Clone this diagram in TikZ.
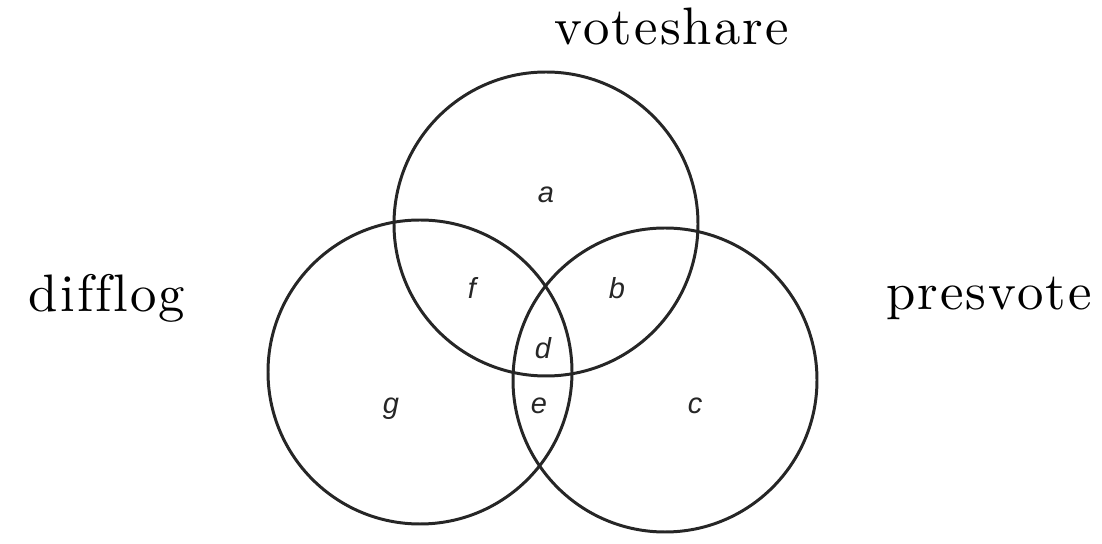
\documentclass[tikz,border=0pt]{standalone}
\usepackage{fontspec}
\newfontfamily\regionfont{Liberation Sans}
\newfontfamily\namefont{lmroman10-regular.otf}[LetterSpace=4,Ligatures=NoCommon]
\usepackage{tikz}

\begin{document}
\begin{tikzpicture}[
        setcircle/.style={draw=black!85, line width=1.7pt, circle, minimum size=6.08cm, inner sep=0pt},
        setname/.style={anchor=base, inner sep=0pt, font=\namefont\fontsize{30}{35}\selectfont},
        region/.style={anchor=base, inner sep=0pt, text=black!85, font=\regionfont\itshape\fontsize{16.5}{20}\selectfont}
      ]
      \useasboundingbox (0,0) rectangle (22.04,10.88);

      \node[setcircle] (vote) at (10.92,6.40) {};
      \node[setcircle] (diff) at (8.40,3.44) {};
      \node[setcircle] (pres) at (13.30,3.28) {};

      \node[setname] (vote-name) at (13.44,9.98) {voteshare};
      \node[setname] (diff-name) at (2.14,4.64) {difflog};
      \node[setname] (pres-name) at (19.78,4.68) {presvote};

      \node[region] (ra) at (10.92,6.82) {a};
      \node[region] (rb) at (12.34,4.90) {b};
      \node[region] (rc) at (13.90,2.60) {c};
      \node[region] (rd) at (10.86,3.70) {d};
      \node[region] (re) at (10.78,2.60) {e};
      \node[region] (rf) at (9.44,4.90) {f};
      \node[region] (rg) at (7.82,2.60) {g};
    \end{tikzpicture}
\end{document}
